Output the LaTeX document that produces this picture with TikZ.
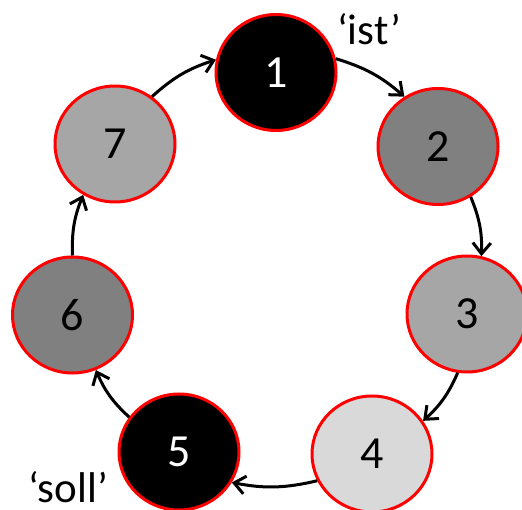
\documentclass[tikz,border=0pt]{standalone}
\usepackage{fontspec}
\setmainfont{Carlito}
\usetikzlibrary{arrows.meta,shapes.geometric}
\definecolor{gA}{RGB}{128,128,128}
\definecolor{gB}{RGB}{166,166,166}
\definecolor{gC}{RGB}{217,217,217}
\tikzset{
  disc/.style={ellipse,draw=red,line width=3pt,minimum width=120pt,minimum height=116pt,inner sep=0pt,font=\fontsize{46}{46}\selectfont},
  lab/.style={font=\fontsize{43}{43}\selectfont,inner sep=0pt,anchor=base},
  conn/.style={line width=3pt,-{Straight Barb[length=11pt,width=18pt,line width=3pt]},bend left=12}
}
\begin{document}
\begin{tikzpicture}[x=1pt,y=-1pt]
\useasboundingbox (0,0) rectangle (522,510);
\clip (0,0) rectangle (522,510);
\node[disc,fill=black,text=white] (n1) at (276,72.5) {1};
\node[disc,fill=gA] (n2) at (438,146.5) {2};
\node[disc,fill=gB] (n3) at (467,314) {3};
\node[disc,fill=gC] (n4) at (372,454) {4};
\node[disc,fill=black,text=white] (n5) at (179,452) {5};
\node[disc,fill=gA] (n6) at (72.5,315) {6};
\node[disc,fill=gB] (n7) at (115,144) {7};
\node[lab] (ist) at (369,45) {‘ist’};
\node[lab] (soll) at (68,502) {‘soll’};
\draw[conn] (n1.13) to (n2.124);
\draw[conn] (n2.-57) to (n3.76);
\draw[conn] (n3.-99) to (n4.33);
\draw[conn] (n4.206) to (n5.-30);
\draw[conn] (n5.145) to (n6.-67);
\draw[conn] (n6.90) to (n7.238);
\draw[conn] (n7.52) to (n1.168);
\end{tikzpicture}
\end{document}
